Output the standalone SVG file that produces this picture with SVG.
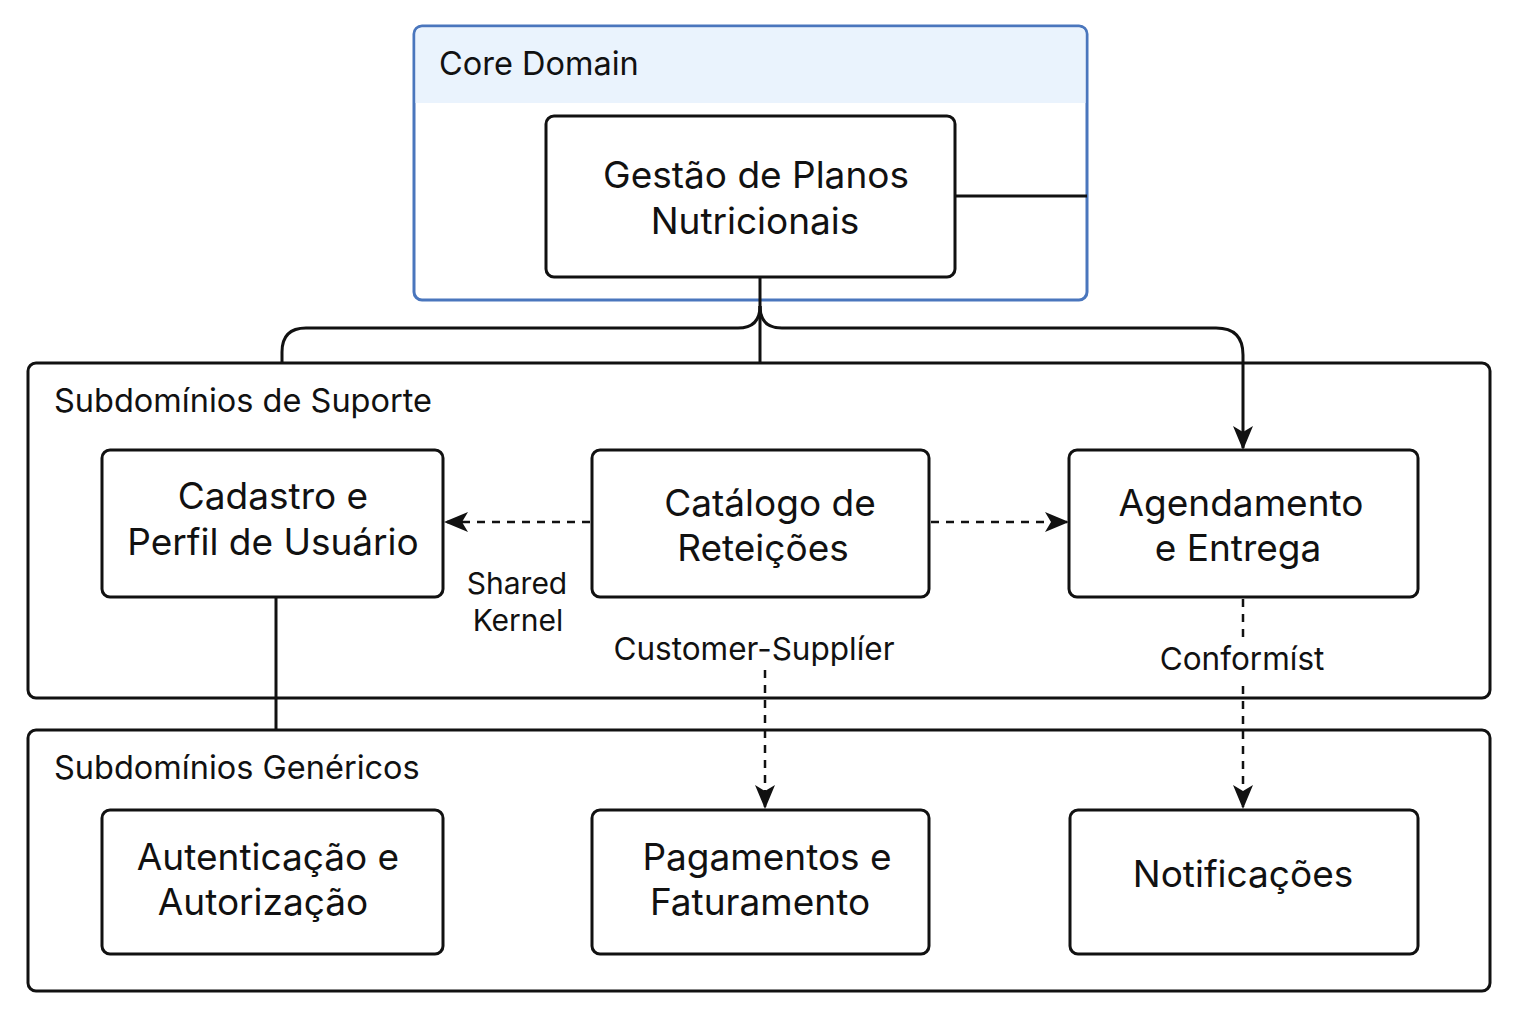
<svg xmlns="http://www.w3.org/2000/svg" width="1536" height="1024" viewBox="0 0 1536 1024">
<defs>
<style>
.box{fill:#fff;stroke:#111;stroke-width:3}
.grp{fill:#fff;stroke:#111;stroke-width:3}
.t{font-family:Inter,"Liberation Sans",sans-serif;fill:#111}
.node{font-size:37px;text-anchor:middle}
.lbl{font-size:32.5px}
.clbl{font-size:31.5px;text-anchor:middle}
.sk{font-size:30px;text-anchor:middle}
.ln{fill:none;stroke:#111;stroke-width:3}
.dash{fill:none;stroke:#111;stroke-width:2.5;stroke-dasharray:8 7}
</style>
<marker id="arr" viewBox="0 0 24 24" refX="22" refY="12" markerWidth="24" markerHeight="24" markerUnits="userSpaceOnUse" orient="auto">
<path d="M0,2 L24,12 L0,22 L6,12 Z" fill="#111"/>
</marker>
</defs>
<rect width="1536" height="1024" fill="#fff"/>

<g id="core-domain">
<rect x="414" y="26" width="673" height="274" rx="8" fill="#fff" stroke="#4a76bd" stroke-width="3"/>
<path d="M415.5,34 Q415.5,27.5 422,27.5 L1079,27.5 Q1085.5,27.5 1085.5,34 L1085.5,103 L415.5,103 Z" fill="#eaf3fd"/>
<text class="t lbl" x="439" y="75">Core Domain</text>
</g>

<g id="suporte">
<rect class="grp" x="28" y="363" width="1462" height="335" rx="8"/>
<text class="t lbl" x="54" y="412">Subdomínios de Suporte</text>
</g>

<g id="genericos">
<rect class="grp" x="28" y="730" width="1462" height="261" rx="8"/>
<text class="t lbl" x="54" y="779">Subdomínios Genéricos</text>
</g>

<g id="connectors">
<path class="ln" d="M955,196 L1087,196"/>
<path class="ln" d="M760,277 L760,362"/>
<path class="ln" d="M760,306 Q760,328 738,328 L306,328 Q282,328 282,352 L282,362"/>
<path class="ln" d="M760,306 Q760,328 782,328 L1216,328 Q1243,328 1243,355 L1243,448" marker-end="url(#arr)"/>
<path class="dash" d="M590,522 L446,522" marker-end="url(#arr)"/>
<path class="dash" d="M931,522 L1067,522" marker-end="url(#arr)"/>
<path class="ln" d="M276,597 L276,730"/>
<path class="dash" d="M765,670 L765,807" marker-end="url(#arr)"/>
<path class="dash" d="M1243,599 L1243,640"/>
<path class="dash" d="M1243,686 L1243,807" marker-end="url(#arr)"/>
<text class="t sk" x="517" y="594">Shared</text>
<text class="t sk" x="518" y="631">Kernel</text>
<text class="t clbl" x="754" y="660">Customer-Supplíer</text>
<text class="t clbl" x="1242" y="670">Conformíst</text>
</g>

<g id="gestao">
<rect class="box" x="546" y="116" width="409" height="161" rx="8"/>
<text class="t node" x="756" y="188">Gestão de Planos</text>
<text class="t node" x="755" y="234">Nutricionais</text>
</g>

<g id="cadastro">
<rect class="box" x="102" y="450" width="341" height="147" rx="8"/>
<text class="t node" x="273" y="509">Cadastro e</text>
<text class="t node" x="273" y="555">Perfil de Usuário</text>
</g>

<g id="catalogo">
<rect class="box" x="592" y="450" width="337" height="147" rx="8"/>
<text class="t node" x="770" y="516">Catálogo de</text>
<text class="t node" x="763" y="561">Reteições</text>
</g>

<g id="agendamento">
<rect class="box" x="1069" y="450" width="349" height="147" rx="8"/>
<text class="t node" x="1241" y="516">Agendamento</text>
<text class="t node" x="1238" y="561">e Entrega</text>
</g>

<g id="autenticacao">
<rect class="box" x="102" y="810" width="341" height="144" rx="8"/>
<text class="t node" x="268" y="870">Autenticação e</text>
<text class="t node" x="263" y="915">Autorização</text>
</g>

<g id="pagamentos">
<rect class="box" x="592" y="810" width="337" height="144" rx="8"/>
<text class="t node" x="767" y="870">Pagamentos e</text>
<text class="t node" x="760" y="915">Faturamento</text>
</g>

<g id="notificacoes">
<rect class="box" x="1070" y="810" width="348" height="144" rx="8"/>
<text class="t node" x="1243" y="887">Notificações</text>
</g>
</svg>
